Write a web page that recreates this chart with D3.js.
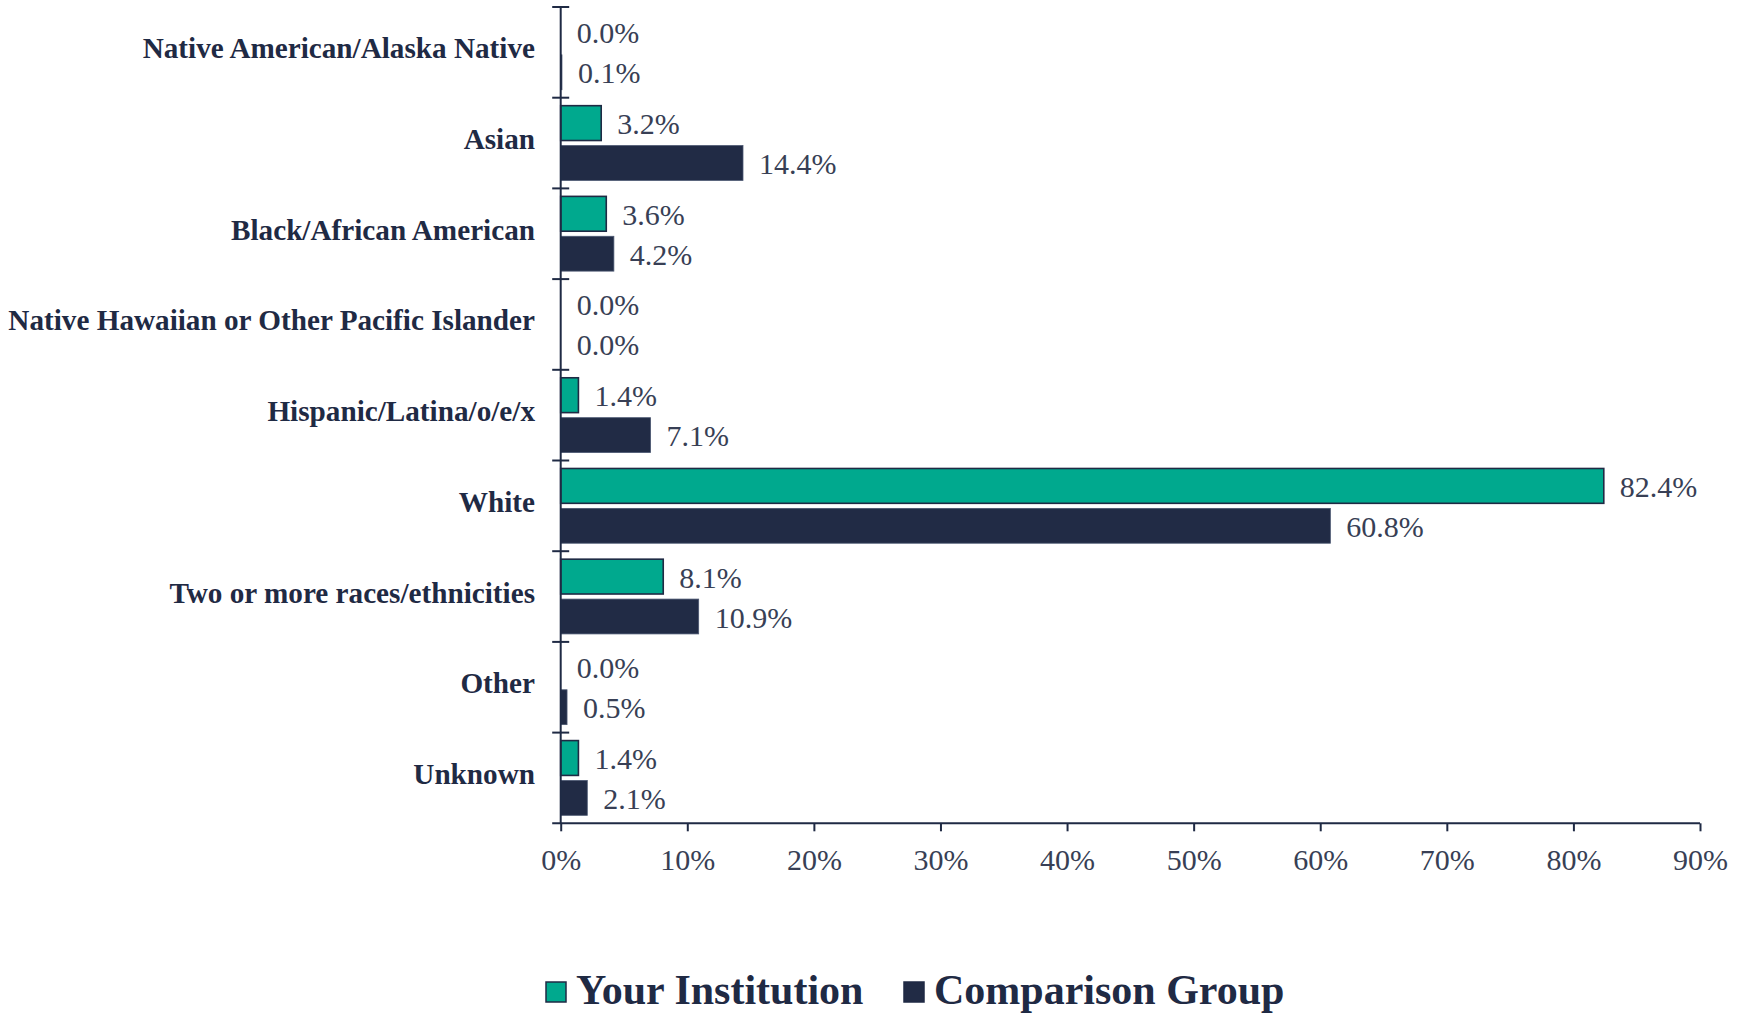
<!DOCTYPE html>
<html>
<head>
<meta charset="utf-8">
<script src="https://cdn.jsdelivr.net/npm/d3@7"></script>
<style>
  body { margin: 0; background: #fff; }
  svg { display: block; font-family: "Liberation Serif", "Times New Roman", serif; }
</style>
</head>
<body>
<div id="chart"></div>
<script>
// Chart data
const categories = [
    'Native American/Alaska Native', 'Asian', 'Black/African American',
    'Native Hawaiian or Other Pacific Islander', 'Hispanic/Latina/o/e/x',
    'White', 'Two or more races/ethnicities', 'Other', 'Unknown'
];
const seriesNames = ['Your Institution', 'Comparison Group'];
const yourInstitution = [0.0, 3.2, 3.6, 0.0, 1.4, 82.4, 8.1, 0.0, 1.4];
const comparisonGroup = [0.1, 14.4, 4.2, 0.0, 7.1, 60.8, 10.9, 0.5, 2.1];
const xTicks = [0, 10, 20, 30, 40, 50, 60, 70, 80, 90];

const colors = { 'Your Institution': '#00a98e', 'Comparison Group': '#212b45' };
const inkColor = '#1f2a44';
const valueColor = '#383f55';

const width = 1748;
const height = 1014;
const marginLeft = 560.7;
const marginRight = 48;
const marginTop = 7;
const axisBottom = 823.3;

// Build rows for the grouped bars
const rows = [];
categories.forEach(function(cat, i) {
    rows.push({ cat: cat, series: seriesNames[0], value: yourInstitution[i] });
    rows.push({ cat: cat, series: seriesNames[1], value: comparisonGroup[i] });
});

const svg = d3.select("#chart").append("svg")
    .attr("width", width)
    .attr("height", height);

const x = d3.scaleLinear()
    .domain([0, 90])
    .range([marginLeft, width - marginRight]);

const y = d3.scaleBand()
    .domain(categories)
    .range([marginTop, axisBottom])
    .paddingInner(0)
    .paddingOuter(0);

const ySub = d3.scaleBand()
    .domain(seriesNames)
    .range([0, y.bandwidth()])
    .paddingInner(0.127)
    .paddingOuter(0.2);

// Bars
svg.append("g")
    .selectAll("rect")
    .data(rows.filter(d => d.value > 0))
    .enter().append("rect")
    .attr("x", x(0))
    .attr("y", d => y(d.cat) + ySub(d.series))
    .attr("width", d => x(d.value) - x(0))
    .attr("height", ySub.bandwidth())
    .attr("fill", d => colors[d.series])
    .attr("stroke", d => d.series === seriesNames[0] ? inkColor : '#4a5670')
    .attr("stroke-width", d => d.series === seriesNames[0] ? 1.6 : 0.8);

// Value labels
svg.append("g")
    .selectAll("text")
    .data(rows)
    .enter().append("text")
    .attr("x", d => x(d.value) + 16)
    .attr("y", d => y(d.cat) + ySub(d.series) + ySub.bandwidth() / 2 + 11)
    .attr("fill", valueColor)
    .attr("font-size", 30)
    .text(d => d.value.toFixed(1) + '%');

// X axis
const gx = svg.append("g")
    .attr("transform", `translate(0,${axisBottom})`)
    .call(d3.axisBottom(x).tickValues(xTicks).tickFormat(d => d + '%').tickSizeOuter(0).tickSize(8).tickPadding(17));
gx.select(".domain").attr("d", `M${x(0) - 8.5},0H${x(90)}`);
gx.selectAll("line, path").attr("stroke", inkColor).attr("stroke-width", 2);
gx.selectAll("text")
    .attr("font-size", 30)
    .attr("font-family", "Liberation Serif, serif")
    .attr("fill", valueColor);

// Y axis with cross ticks at category boundaries
const gy = svg.append("g")
    .attr("transform", `translate(${x(0)},0)`);
gy.append("line")
    .attr("y1", marginTop)
    .attr("y2", axisBottom)
    .attr("stroke", inkColor)
    .attr("stroke-width", 2);
gy.selectAll(".tick")
    .data(categories)
    .enter().append("line")
    .attr("class", "tick")
    .attr("x1", -8.5)
    .attr("x2", 8.5)
    .attr("y1", d => y(d))
    .attr("y2", d => y(d))
    .attr("stroke", inkColor)
    .attr("stroke-width", 2);

// Category labels
svg.append("g")
    .selectAll("text")
    .data(categories)
    .enter().append("text")
    .attr("x", 535)
    .attr("y", d => y(d) + y.bandwidth() / 2 + 6)
    .attr("text-anchor", "end")
    .attr("font-size", 29.2)
    .attr("font-weight", "bold")
    .attr("fill", inkColor)
    .text(d => d);

// Legend
const legendItems = [
    { name: seriesNames[0], x: 545 },
    { name: seriesNames[1], x: 903 }
];
const legend = svg.append("g");
legendItems.forEach(function(item) {
    legend.append("rect")
        .attr("x", item.x + 1)
        .attr("y", 982)
        .attr("width", 20)
        .attr("height", 20)
        .attr("fill", colors[item.name])
        .attr("stroke", inkColor)
        .attr("stroke-width", 1.5);
    legend.append("text")
        .attr("x", item.x + 31)
        .attr("y", 1004)
        .attr("font-size", 42)
        .attr("font-weight", "bold")
        .attr("fill", inkColor)
        .text(item.name);
});
</script>
</body>
</html>
